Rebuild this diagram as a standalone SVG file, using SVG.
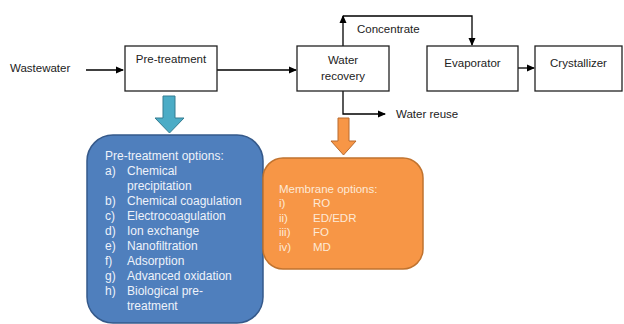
<svg xmlns="http://www.w3.org/2000/svg" width="624" height="324" viewBox="0 0 624 324">
<defs>
<marker id="ah" markerWidth="8" markerHeight="8" refX="7" refY="4" orient="auto" markerUnits="userSpaceOnUse">
<path d="M0,0.5 L8,4 L0,7.5 Z" fill="#000"/>
</marker>
<style>
.box{fill:#fff;stroke:#222;stroke-width:1.3}
.t{font-family:"Liberation Sans",Arial,sans-serif;font-size:11.5px;fill:#222}
.c{text-anchor:middle}
.ln{fill:none;stroke:#000;stroke-width:1.3}
.wt{font-family:"Liberation Sans",Arial,sans-serif;font-size:12px;fill:#eef2fa}
.ot{font-family:"Liberation Sans",Arial,sans-serif;font-size:11.5px;fill:#fde9d6}
</style>
</defs>
<rect width="624" height="324" fill="#fff"/>
<g id="connectors">
<line class="ln" x1="86" y1="70" x2="123" y2="70" marker-end="url(#ah)"/>
<line class="ln" x1="217" y1="70" x2="296" y2="70" marker-end="url(#ah)"/>
<polyline class="ln" points="343,46 343,16" marker-end="url(#ah)"/>
<polyline class="ln" points="343,16 472,16 472,45" marker-end="url(#ah)"/>
<line class="ln" x1="518" y1="68" x2="534" y2="68" marker-end="url(#ah)"/>
<polyline class="ln" points="343,91 343,114 385,114" marker-end="url(#ah)"/>
<text class="t" x="357" y="33">Concentrate</text>
<text class="t" x="396" y="118">Water reuse</text>
<path d="M163,96 H175 V118 H184 L169.5,133 L155,118 H163 Z" fill="#4bacc6" stroke="#357d91" stroke-width="1"/>
<path d="M338,118 H349 V141 H356 L343.5,155 L331,141 H338 Z" fill="#f79646" stroke="#b86b2e" stroke-width="1"/>
</g>
<g id="wastewater">
<text class="t" x="10" y="72">Wastewater</text>
</g>
<g id="pretreatment">
<rect class="box" x="125" y="46" width="92" height="45"/>
<text class="t c" x="171" y="63">Pre-treatment</text>
</g>
<g id="waterrecovery">
<rect class="box" x="297" y="46" width="92" height="45"/>
<text class="t c" x="343" y="64">Water</text>
<text class="t c" x="343" y="80">recovery</text>
</g>
<g id="evaporator">
<rect class="box" x="427" y="46" width="91" height="45"/>
<text class="t c" x="472.5" y="67">Evaporator</text>
</g>
<g id="crystallizer">
<rect class="box" x="535" y="46" width="87" height="45"/>
<text class="t c" x="578.5" y="67">Crystallizer</text>
</g>
<g id="pretreatment-options">
<rect x="87" y="135" width="176" height="188" rx="26" fill="#4f7fbd" stroke="#35598a" stroke-width="1.5"/>
<text class="wt" x="105" y="160">Pre-treatment options:</text>
<text class="wt" x="105" y="175">a)</text><text class="wt" x="127" y="175">Chemical</text>
<text class="wt" x="127" y="190">precipitation</text>
<text class="wt" x="105" y="205">b)</text><text class="wt" x="127" y="205">Chemical coagulation</text>
<text class="wt" x="105" y="220">c)</text><text class="wt" x="127" y="220">Electrocoagulation</text>
<text class="wt" x="105" y="235">d)</text><text class="wt" x="127" y="235">Ion exchange</text>
<text class="wt" x="105" y="250">e)</text><text class="wt" x="127" y="250">Nanofiltration</text>
<text class="wt" x="105" y="265">f)</text><text class="wt" x="127" y="265">Adsorption</text>
<text class="wt" x="105" y="280">g)</text><text class="wt" x="127" y="280">Advanced oxidation</text>
<text class="wt" x="105" y="295">h)</text><text class="wt" x="127" y="295">Biological pre-</text>
<text class="wt" x="127" y="310">treatment</text>
</g>
<g id="membrane-options">
<rect x="263" y="158" width="160" height="111" rx="20" fill="#f79646" stroke="#c0732f" stroke-width="1.5"/>
<text class="ot" x="279" y="193">Membrane options:</text>
<text class="ot" x="279" y="207">i)</text><text class="ot" x="313" y="207">RO</text>
<text class="ot" x="279" y="221.5">ii)</text><text class="ot" x="313" y="221.5">ED/EDR</text>
<text class="ot" x="279" y="236">iii)</text><text class="ot" x="313" y="236">FO</text>
<text class="ot" x="279" y="250.5">iv)</text><text class="ot" x="313" y="250.5">MD</text>
</g>
</svg>
